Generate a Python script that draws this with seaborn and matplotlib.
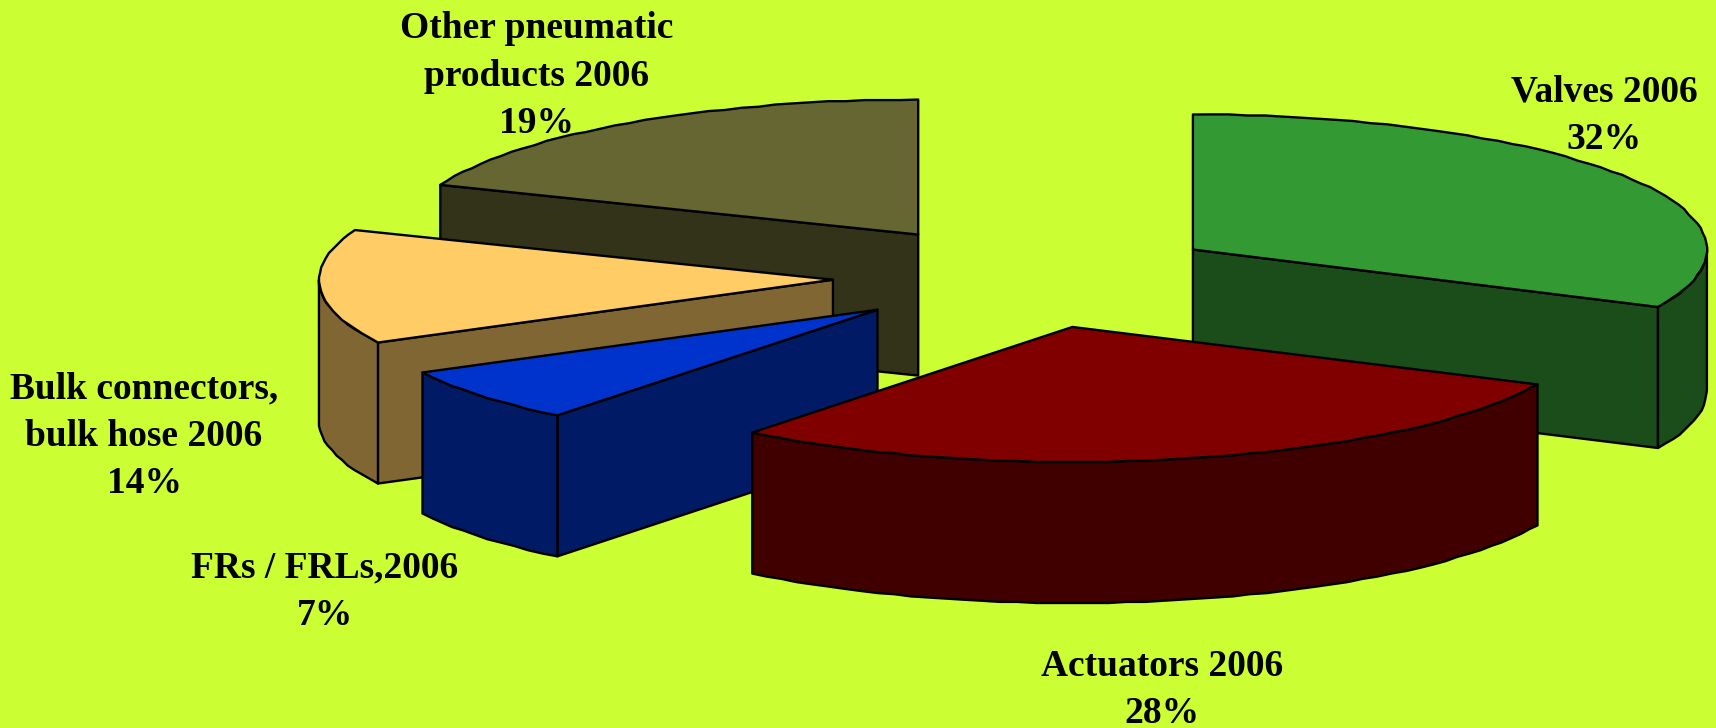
import numpy as np
import seaborn as sns
import matplotlib.pyplot as plt
from matplotlib.patches import Polygon

# Slices clockwise from 12 o'clock
categories = ['Valves 2006', 'Actuators 2006', 'FRs / FRLs,2006',
              'Bulk connectors,\nbulk hose 2006', 'Other pneumatic\nproducts 2006']
printed_pct = [32, 28, 7, 14, 19]
# slice sizes as measured on the picture, the printed labels are rounded
sizes = [32.0, 28.7, 6.6, 13.7, 19.0]
top_colors = ['#339933', '#800000', '#0033CC', '#FFCC66', '#666633']

# label anchor per slice (pixels)
label_xy = [(1604, 116), (1162, 690), (325, 592), (144, 436), (537, 76)]

# back to front
draw_order = [4, 0, 3, 2, 1]

CX, CY = 1028, 277
RX, RY = 514, 135
DEPTH = 141
EXPLODE = 0.38
EDGE = 1.7
GRID = 1.1

sns.set_theme(style='white', rc={'figure.facecolor': '#CCFF33', 'axes.facecolor': '#CCFF33'})
plt.rcParams['font.family'] = ['Liberation Serif', 'DejaVu Serif']
palette = sns.color_palette(top_colors)

fig, ax = plt.subplots(figsize=(17.16, 7.28), dpi=100)
ax.set_position([0, 0, 1, 1])
ax.set_xlim(0, 1716)
ax.set_ylim(728, 0)
ax.axis('off')


def rim(cx, cy, deg):
    a = np.radians(deg)
    return np.column_stack([cx + RX * np.sin(a), cy - RY * np.cos(a)])


def rough_arc(cx, cy, a0, a1):
    # the original outline is slightly jagged, snap the points to a coarse grid
    n = max(int((a1 - a0) / 2), 2)
    pts = rim(cx, cy, np.linspace(a0, a1, n + 1))
    inner = np.round(pts[1:-1] / GRID) * GRID
    return np.vstack([pts[0], inner, pts[-1]])


def face(points, color):
    ax.add_patch(Polygon(points, closed=True, facecolor=color, edgecolor='black',
                         linewidth=EDGE, joinstyle='round'))


edges = np.cumsum([0] + sizes) * 3.6

for i in draw_order:
    a0, a1 = edges[i], edges[i + 1]
    mid = np.radians((a0 + a1) / 2)
    cx = CX + EXPLODE * RX * np.sin(mid)
    cy = CY - EXPLODE * RY * np.cos(mid)
    apex = np.array([[cx, cy]])
    down = np.array([0, DEPTH])
    side = tuple(c * 0.5 for c in palette[i])

    # radial walls that look towards the viewer
    if np.sin(np.radians(a0)) < -1e-9:
        p = rim(cx, cy, [a0])
        face(np.vstack([apex, p, p + down, apex + down]), side)
    if np.sin(np.radians(a1)) > 1e-9:
        p = rim(cx, cy, [a1])
        face(np.vstack([apex, p, p + down, apex + down]), side)

    # outer wall, front half only
    f0, f1 = max(a0, 90), min(a1, 270)
    if f1 > f0:
        arc = rough_arc(cx, cy, f0, f1)
        face(np.vstack([arc, arc[::-1] + down]), side)

    # top
    face(np.vstack([apex, rough_arc(cx, cy, a0, a1)]), palette[i])

for name, pct, (x, y) in zip(categories, printed_pct, label_xy):
    ax.text(x, y, f'{name}\n{pct}%', ha='center', va='center', fontsize=27,
            fontweight='bold', color='black', linespacing=1.45, zorder=10)

fig.savefig('out.png', dpi=100, facecolor=fig.get_facecolor())
